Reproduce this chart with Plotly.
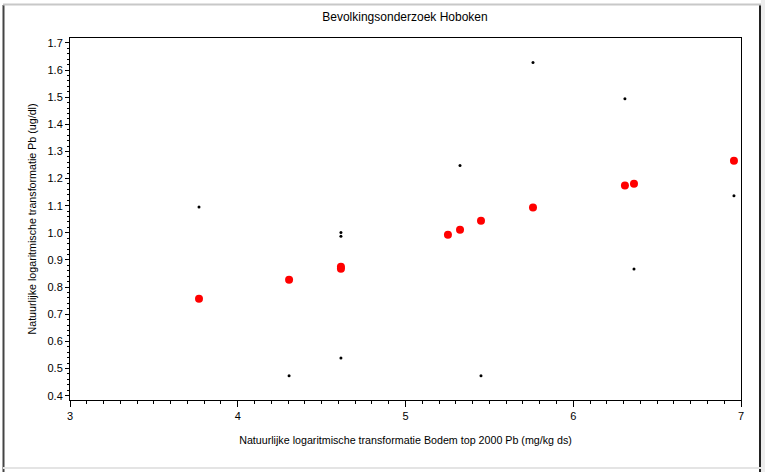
import plotly.graph_objects as go

# Individual observations (black dots)
obs_x = [3.769, 4.306, 4.615, 4.615, 4.615, 5.325, 5.450, 5.760, 6.308, 6.362, 6.958]
obs_y = [1.095, 0.473, 1.001, 0.987, 0.539, 1.248, 0.473, 1.628, 1.494, 0.867, 1.137]

# Predicted values (red dots)
pred_x = [3.769, 4.306, 4.615, 4.615, 5.253, 5.325, 5.450, 5.760, 6.308, 6.362, 6.958]
pred_y = [0.757, 0.827, 0.868, 0.875, 0.993, 1.011, 1.045, 1.093, 1.174, 1.181, 1.266]

title_text = "Bevolkingsonderzoek Hoboken"
x_title = "Natuurlijke logaritmische transformatie Bodem top 2000 Pb (mg/kg ds)"
y_title = "Natuurlijke logaritmische transformatie Pb (ug/dl)"

FONT = "Liberation Sans, Arial, sans-serif"

fig = go.Figure()
fig.add_trace(go.Scatter(x=obs_x, y=obs_y, mode="markers",
                         marker=dict(color="black", size=3), showlegend=False))
fig.add_trace(go.Scatter(x=pred_x, y=pred_y, mode="markers",
                         marker=dict(color="#ff0000", size=8), showlegend=False))

W, H = 765, 472
ml, mr, mt, mb = 70, 24, 38, 72
pw, ph = W - ml - mr, H - mt - mb

def px(x):
    return (x - ml) / pw

def py(y):
    return (H - mb - y) / ph

fig.update_layout(
    width=W, height=H,
    margin=dict(l=ml, r=mr, t=mt, b=mb),
    paper_bgcolor="white", plot_bgcolor="white",
    font=dict(family=FONT, size=11, color="black"),
    title=dict(text=title_text, x=px(405), xref="paper", xanchor="center",
               y=1 - 17 / H, yanchor="middle", font=dict(size=12)),
    showlegend=False,
)
fig.update_xaxes(
    range=[3, 7], tick0=3, dtick=1, showgrid=False, zeroline=False,
    showline=True, linecolor="black", linewidth=1, mirror=True,
    ticks="outside", ticklen=6, tickcolor="black",
    minor=dict(dtick=0.1, ticks="outside", ticklen=3, tickcolor="black", showgrid=False),
    title=dict(text=x_title, standoff=15, font=dict(size=10.7)),
)
fig.update_yaxes(
    range=[0.384, 1.718], tick0=0.4, dtick=0.1, tickformat=".1f", showgrid=False, zeroline=False,
    showline=True, linecolor="black", linewidth=1, mirror=True,
    ticks="outside", ticklen=4, tickcolor="black",
    minor=dict(dtick=0.02, ticks="outside", ticklen=2, tickcolor="black", showgrid=False),
    title=dict(text=y_title, standoff=8, font=dict(size=10.7)),
)

# outer border of the graphics area
fig.add_shape(type="line", xref="paper", yref="paper", x0=px(3.5), x1=px(3.5), y0=py(5), y1=py(472),
              line=dict(color="#444444", width=2))
fig.add_shape(type="line", xref="paper", yref="paper", x0=px(760), x1=px(760), y0=py(5), y1=py(472),
              line=dict(color="#222222", width=2))
fig.add_shape(type="line", xref="paper", yref="paper", x0=px(3), x1=px(761), y0=py(4.5), y1=py(4.5),
              line=dict(color="#c8c8c8", width=2))
fig.add_shape(type="line", xref="paper", yref="paper", x0=px(3), x1=px(761), y0=py(468), y1=py(468),
              line=dict(color="#e4e4e4", width=2))
fig.add_shape(type="rect", xref="paper", yref="paper", x0=px(761), x1=px(766), y0=py(0), y1=py(472),
              line=dict(width=0), fillcolor="#ededed")

fig.write_html("out.html")
